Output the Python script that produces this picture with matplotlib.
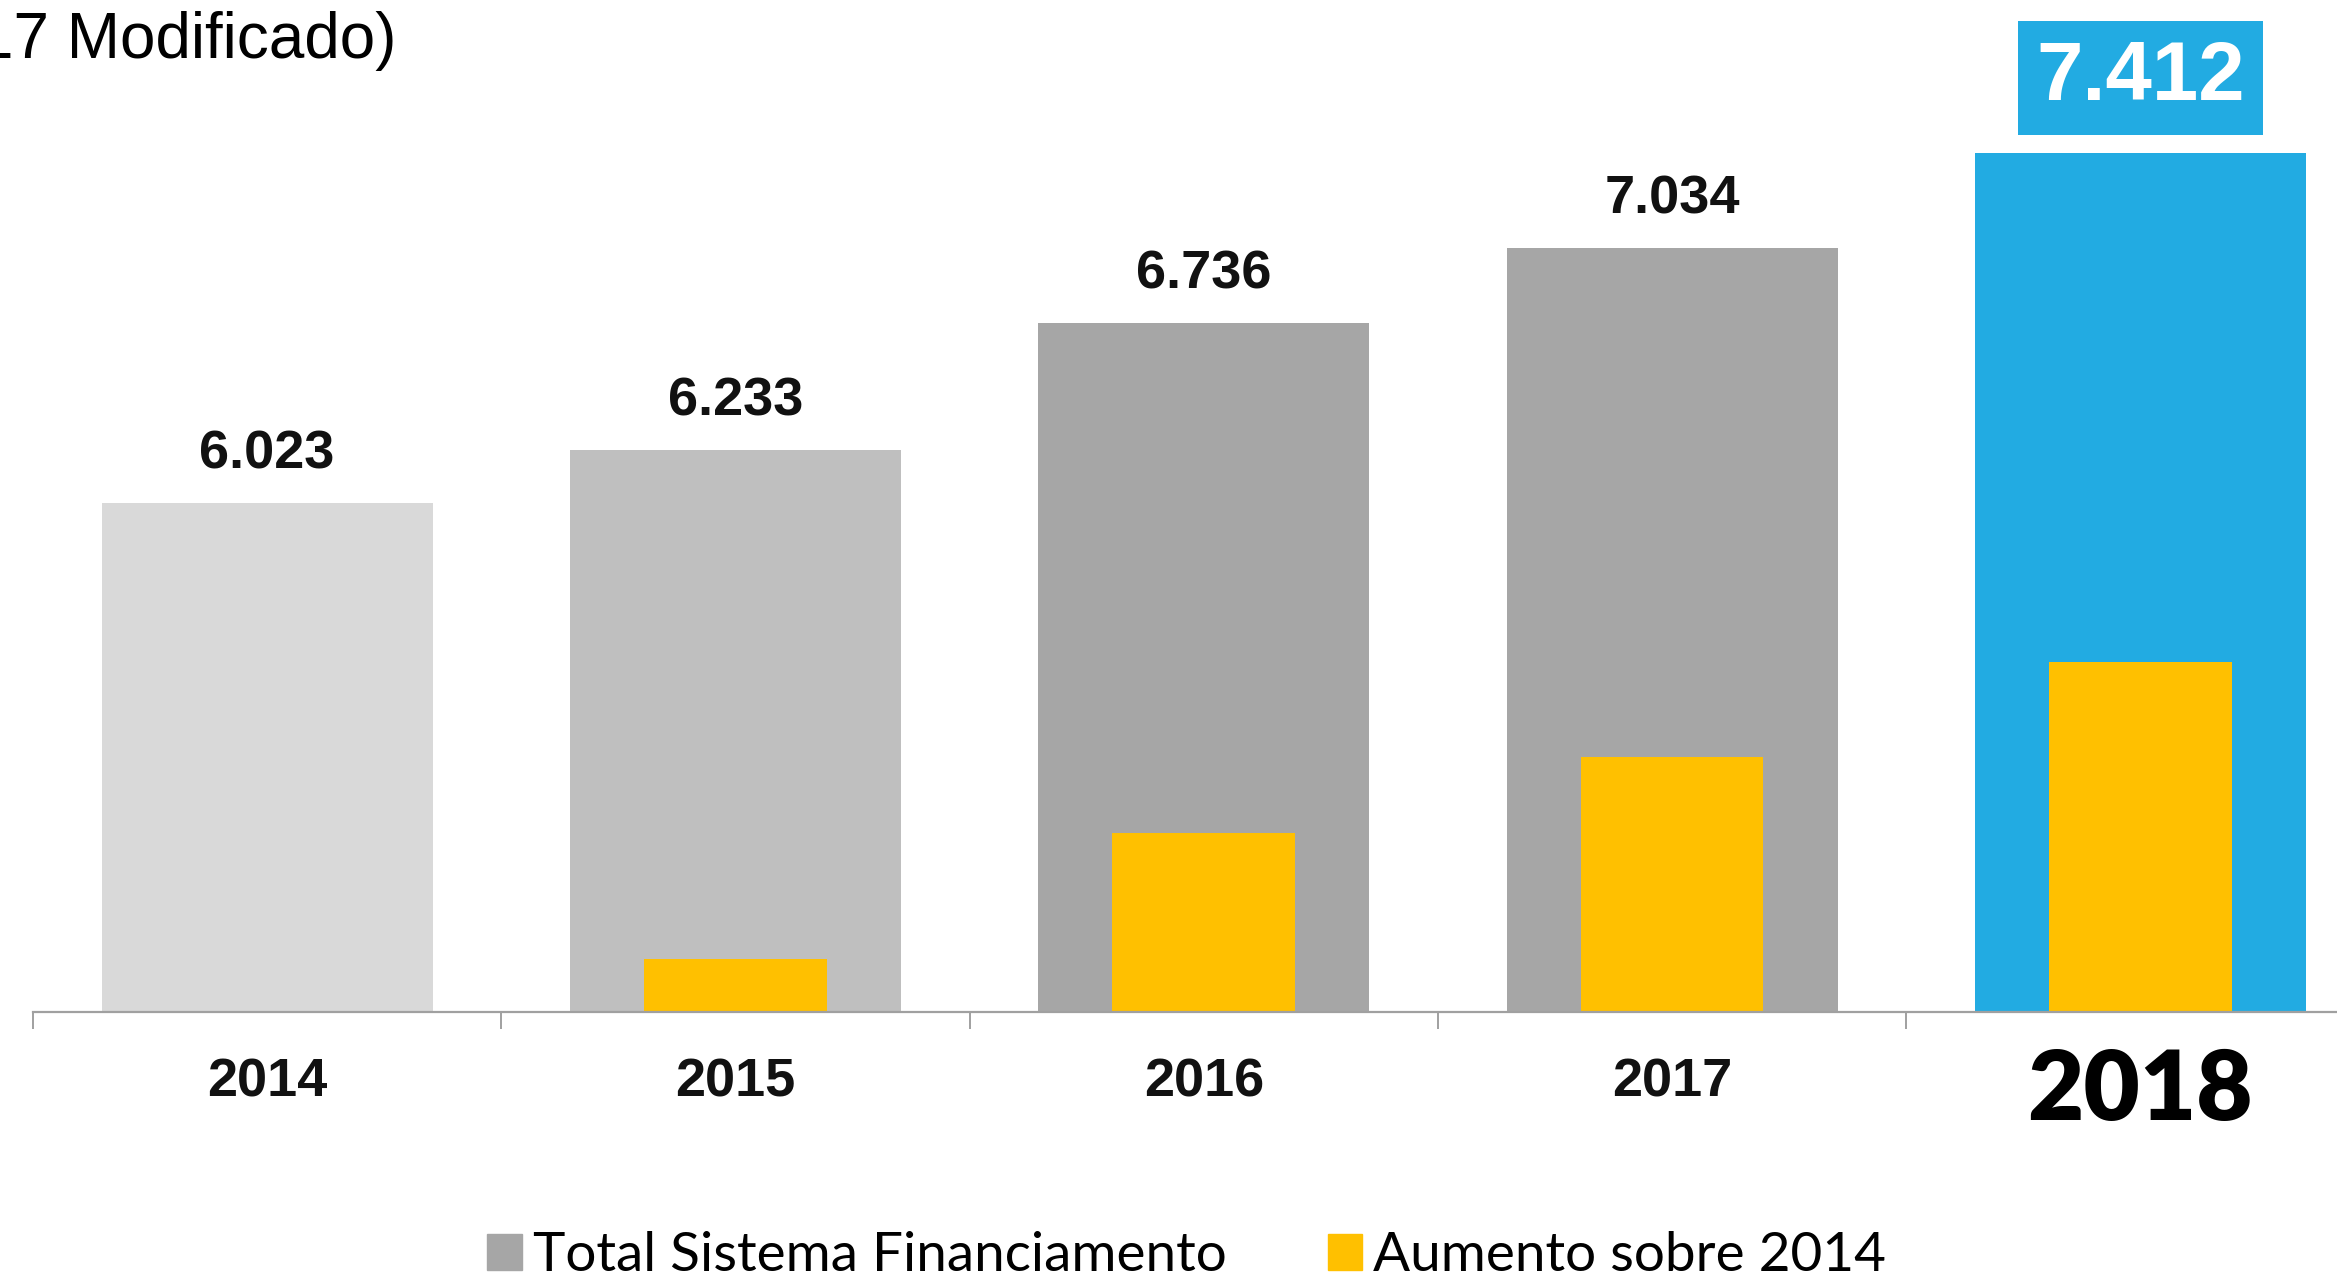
import matplotlib.pyplot as plt
from matplotlib.patches import Patch

# data
years = ["2014", "2015", "2016", "2017", "2018"]
totals = [6.023, 6.233, 6.736, 7.034, 7.412]
value_labels = ["6.023", "6.233", "6.736", "7.034", "7.412"]
increase = [t - totals[0] for t in totals]  # aumento sobre 2014

legend_labels = ["Total Sistema Financiamento", "Aumento sobre 2014"]
title_text = "17 Modificado)"

# styling
bar_colors = ["#D9D9D9", "#BFBFBF", "#A6A6A6", "#A6A6A6", "#22ABE2"]
orange = "#FFC000"
axis_gray = "#A0A0A0"
base = 4.0

fig = plt.figure(figsize=(23.37, 12.8), dpi=100)
ax = fig.add_axes([33 / 2337, 268 / 1280, 5 * 468.3 / 2337, 1012 / 1280])

x = list(range(len(years)))
ax.bar(x, [t - base for t in totals], bottom=base, width=0.707, color=bar_colors, zorder=1)
ax.bar(x, increase, bottom=base, width=0.39, color=orange, zorder=2)

ax.set_xlim(-0.5, 4.5)
ax.set_ylim(base, 8.02)

# value labels above bars
for i, (t, lab) in enumerate(zip(totals, value_labels)):
    if i < len(totals) - 1:
        ax.annotate(lab, (i, t), xytext=(0, 25), textcoords="offset points",
                    ha="center", va="baseline", fontsize=39, fontweight="bold",
                    family="Liberation Sans", color="#111111")
    else:
        ax.annotate(lab, (i, t), xytext=(0, 54), textcoords="offset points",
                    ha="center", va="center", fontsize=60, fontweight="bold",
                    family="Liberation Sans", color="white",
                    bbox=dict(boxstyle="square,pad=0.22", fc=bar_colors[-1], ec="none"))

# axis: only the bottom line with boundary ticks
for s in ["top", "right", "left"]:
    ax.spines[s].set_visible(False)
ax.spines["bottom"].set_color(axis_gray)
ax.spines["bottom"].set_linewidth(1.6)
ax.spines["bottom"].set_zorder(3)
ax.set_yticks([])
ax.set_xticks(x)
ax.set_xticklabels(years[:-1] + [""], fontsize=39, fontweight="bold",
                   family="Liberation Sans", color="#111111")
ax.set_xticks([-0.5, 0.5, 1.5, 2.5, 3.5], minor=True)
ax.tick_params(axis="x", which="major", length=0, pad=33)
ax.tick_params(axis="x", which="minor", length=12, width=1.4, color=axis_gray, direction="out")

# highlighted last year, bigger and heavier
ax.annotate(years[-1], (x[-1], base), xytext=(0, -78), textcoords="offset points",
            ha="center", va="baseline", fontsize=70, fontweight="heavy",
            family="Lato", color="black")

# partial title at top-left
fig.text(397 / 2337, 1 - 58 / 1280, title_text, ha="right", va="baseline",
         fontsize=46, family="Liberation Sans", color="black")

# legend at the bottom
handles = [Patch(color="#A6A6A6"), Patch(color=orange)]
fig.legend(handles, legend_labels, loc="lower left", bbox_to_anchor=(487 / 2337, 0.0),
           ncol=2, frameon=False, prop={"family": "Lato", "size": 39.5},
           handlelength=0.63, handleheight=0.63, handletextpad=0.2,
           columnspacing=1.85, borderpad=0, borderaxespad=0)

fig.savefig("out.png", dpi=100)
